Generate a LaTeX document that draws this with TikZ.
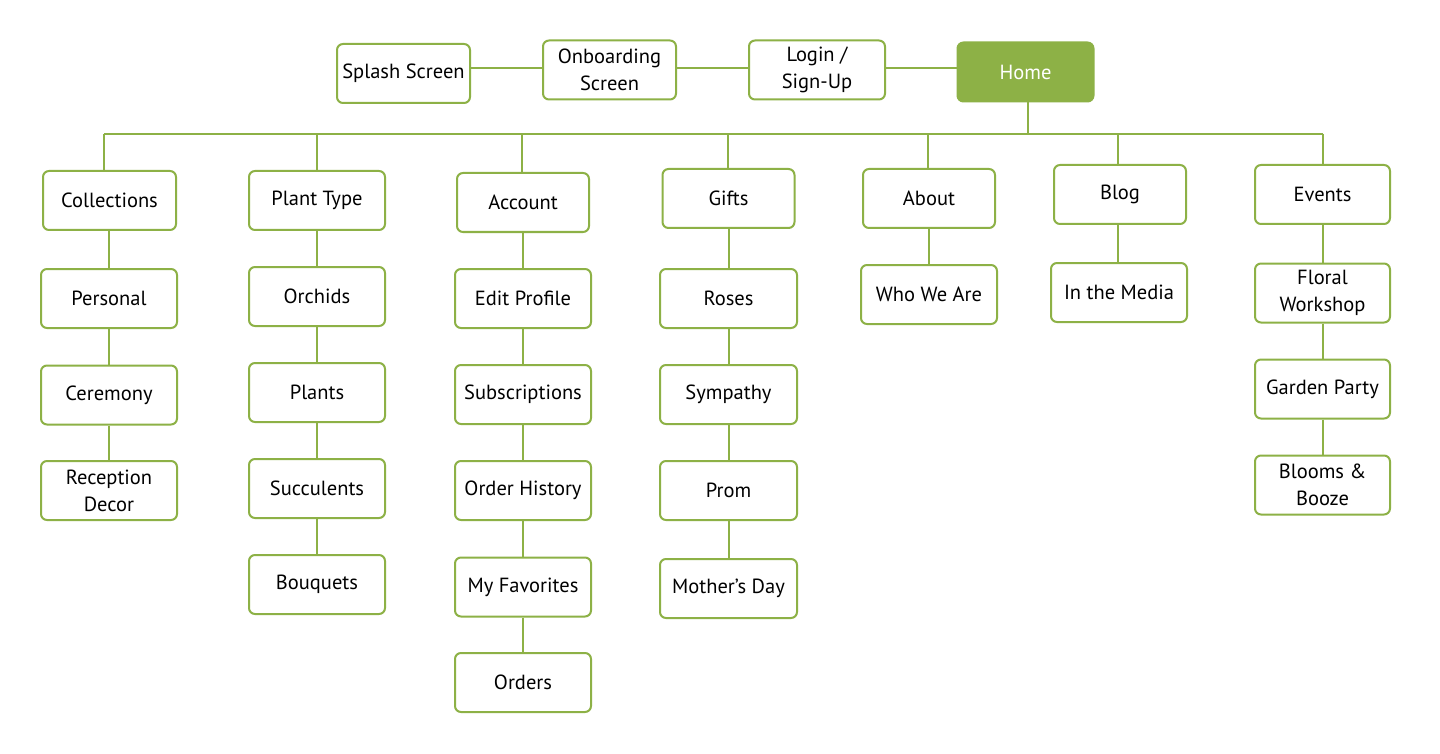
\documentclass[tikz,border=0pt]{standalone}
\usepackage{fontspec}
\setmainfont{PT Sans}
\definecolor{leaf}{HTML}{8DB146}
\begin{document}
\begin{tikzpicture}[x=1pt,y=-1pt,
  box/.style={draw=leaf, line width=2pt, rounded corners=6pt, fill=white,
    align=center, inner sep=0pt, text=black,
    font=\fontsize{20.5}{27}\selectfont,
    minimum width=136pt, minimum height=59pt},
  homebox/.style={box, fill=leaf, text=white},
  link/.style={draw=leaf, line width=2pt}]
\useasboundingbox[fill=white] (0,0) rectangle (1440,754);

% top row
\node[box, minimum width=133pt] (splash) at (403.5,73.5) {Splash Screen};
\node[box, minimum width=133pt] (onb) at (609.5,70) {Onboarding\\Screen};
\node[box] (login) at (817,70) {Login /\\Sign-Up};
\node[homebox] (home) at (1025.5,72) {Home};

\draw[link] (splash.east |- 0,68) -- (onb.west |- 0,68);
\draw[link] (onb.east |- 0,68) -- (login.west |- 0,68);
\draw[link] (login.east |- 0,68) -- (home.west |- 0,68);

% bus
\coordinate (b1) at (104,134);
\coordinate (b2) at (317,134);
\coordinate (b3) at (522,134);
\coordinate (b4) at (728,134);
\coordinate (b5) at (928,134);
\coordinate (hb) at (1028,134);
\coordinate (b6) at (1118,134);
\coordinate (b7) at (1323,134);
\draw[link] (home.south -| hb) -- (hb);
\draw[link] (b1) -- (b7);

% column 1
\node[box, minimum width=133pt] (coll) at (109.5,200.5) {Collections};
\node[box] (pers) at (109,298.5) {Personal};
\node[box] (cere) at (109,395) {Ceremony};
\node[box] (rece) at (109,490.5) {Reception\\Decor};
\draw[link] (b1) -- (coll.north -| b1);
\draw[link] (coll.south -| pers) -- (pers.north);
\draw[link] (pers) -- (cere);
\draw[link] (cere) -- (rece);

% column 2
\node[box] (ptype) at (317,200.5) {Plant Type};
\node[box] (orch) at (317,296.5) {Orchids};
\node[box] (plan) at (317,392.5) {Plants};
\node[box] (succ) at (317,488.5) {Succulents};
\node[box] (bouq) at (317,584.5) {Bouquets};
\draw[link] (b2) -- (ptype.north -| b2);
\draw[link] (ptype) -- (orch);
\draw[link] (orch) -- (plan);
\draw[link] (plan) -- (succ);
\draw[link] (succ) -- (bouq);

% column 3
\node[box, minimum width=132pt] (acc) at (523,202.5) {Account};
\node[box] (edit) at (523,298.5) {Edit Profile};
\node[box] (subs) at (523,394.5) {Subscriptions};
\node[box] (ordh) at (523,490.5) {Order History};
\node[box] (fav) at (523,587) {My Favorites};
\node[box] (ords) at (523,682.5) {Orders};
\draw[link] (b3) -- (acc.north -| b3);
\draw[link] (acc) -- (edit);
\draw[link] (edit) -- (subs);
\draw[link] (subs) -- (ordh);
\draw[link] (ordh) -- (fav);
\draw[link] (fav) -- (ords);

% column 4
\node[box, minimum width=132pt] (gift) at (728.5,198.5) {Gifts};
\node[box, minimum width=137pt] (rose) at (728.5,298.5) {Roses};
\node[box, minimum width=137pt] (symp) at (728.5,394.5) {Sympathy};
\node[box, minimum width=137pt] (prom) at (728.5,490.5) {Prom};
\node[box, minimum width=137pt] (moth) at (728.5,588.5) {Mother’s Day};
\draw[link] (b4) -- (gift.north -| b4);
\draw[link] (gift) -- (rose);
\draw[link] (rose) -- (symp);
\draw[link] (symp) -- (prom);
\draw[link] (prom) -- (moth);

% column 5
\node[box, minimum width=132pt] (about) at (929,198.5) {About};
\node[box] (who) at (929,294.5) {Who We Are};
\draw[link] (b5) -- (about.north -| b5);
\draw[link] (about) -- (who);

% column 6
\node[box, minimum width=132pt] (blog) at (1120,194.5) {Blog};
\node[box] (media) at (1119,292.5) {In the Media};
\draw[link] (b6) -- (blog.north -| b6);
\draw[link] (blog.south -| b6) -- (media.north -| b6);

% column 7
\node[box, minimum width=135pt] (events) at (1322.5,194.5) {Events};
\node[box, minimum width=135pt] (flor) at (1322.5,293) {Floral\\Workshop};
\node[box, minimum width=135pt] (gard) at (1322.5,389) {Garden Party};
\node[box, minimum width=135pt] (bloo) at (1322.5,485) {Blooms \&\\Booze};
\draw[link] (b7) -- (events.north -| b7);
\draw[link] (events) -- (flor);
\draw[link] (flor) -- (gard);
\draw[link] (gard) -- (bloo);
\end{tikzpicture}
\end{document}
